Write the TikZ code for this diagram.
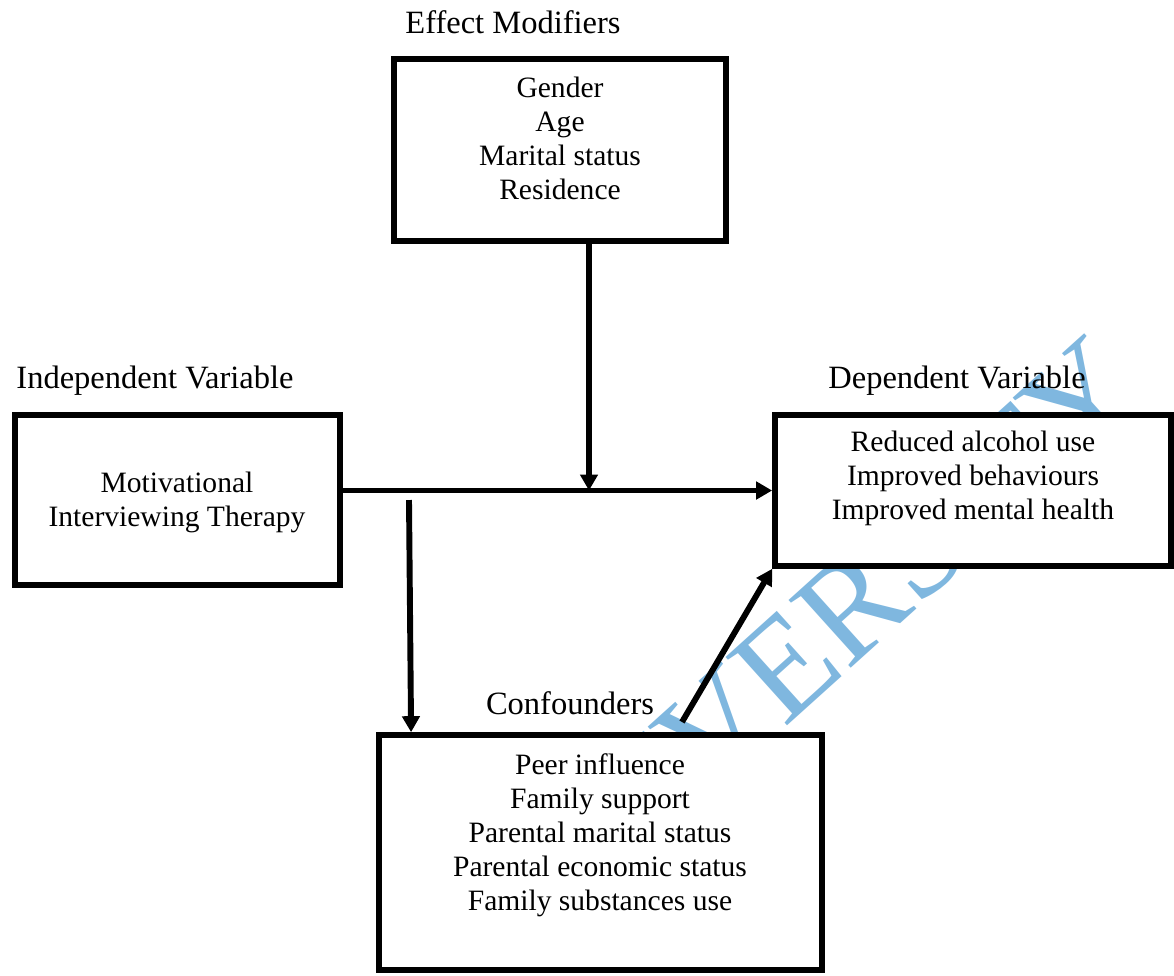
\documentclass[tikz,border=0pt]{standalone}
\usepackage{fontspec}
\setmainfont{Liberation Serif}
\usetikzlibrary{positioning,arrows.meta}
\definecolor{markblue}{RGB}{127,183,223}
\tikzset{
	box/.style={draw, line width=2.3pt, fill=white, inner sep=0pt},
	boxtext/.style={align=center, font=\fontsize{12}{13.8}\selectfont},
	title/.style={font=\fontsize{13.2}{13.8}\selectfont},
	arr/.style={line width=2.4pt, -{Triangle[length=6.5pt,width=7pt]}}
}
\begin{document}
	\begin{tikzpicture}[x=0.406pt,y=-0.406pt]
		\useasboundingbox (0,0) rectangle (1174,975);
		\node[text=markblue, rotate=42, font=\fontsize{57}{57}\selectfont] (mark) at (806,648) {UNIVERSITY};
		
		\node[box, minimum width=134.8pt, minimum height=73.9pt] (modbox) at (560,150) {};
		\node[box, minimum width=132pt, minimum height=69pt] (indepbox) at (177.5,500) {};
		\node[box, minimum width=160.8pt, minimum height=61.3pt] (depbox) at (973,490.5) {};
		\node[box, minimum width=179.9pt, minimum height=95.4pt] (confbox) at (600.5,852.5) {};
		
		\node[title] (modtitle) at (513,22) {Effect Modifiers};
		\node[title] (indeptitle) at (155,381) {Independent Variable};
		\node[title] (deptitle) at (957,381) {Dependent Variable};
		\node[title] (conftitle) at (570,703) {Confounders};
		
		\node[boxtext] (modtext) at (560,138.5) {Gender\\Age\\Marital status\\Residence};
		\node[boxtext] (indeptext) at (177,502.5) {Motivational\\Interviewing Therapy};
		\node[boxtext] (deptext) at (973,478) {Reduced alcohol use\\Improved behaviours\\Improved mental health};
		\node[boxtext] (conftext) at (600,835) {Peer influence\\Family support\\Parental marital status\\Parental economic status\\Family substances use};
		
		\coordinate (join) at (589,490.5);
		\coordinate (split) at (409,500);
		\coordinate (confin) at ([xshift=14.2pt]confbox.north west);
		\coordinate (confout) at (682,722);
		\draw[arr] (indepbox.east |- depbox.west) -- (depbox.west);
		\draw[arr] (join |- modbox.south) -- (join);
		\draw[arr] (split) -- (confin);
		\draw[arr] (confout) -- (depbox.south west);
		
	\end{tikzpicture}
\end{document}
